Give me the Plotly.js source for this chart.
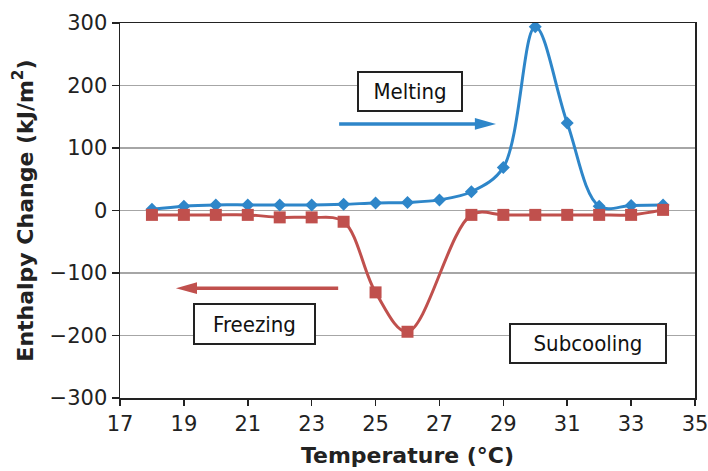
<!DOCTYPE html>
<html><head><meta charset="utf-8">
<script src="https://cdn.plot.ly/plotly-3.0.1.min.js"></script>
<style>html,body{margin:0;padding:0;background:#fff}#chart{width:708px;height:471px}</style>
</head><body><div id="chart"></div>
<script>
const meltTemp = [18,19,20,21,22,23,24,25,26,27,28,29,30,31,32,33,34];
const meltVal  = [2,7,9,9,9,9,10,12,13,17,30,69,294,140,7,8,9];
const freezeTemp = [18,19,20,21,22,23,24,25,26,28,29,30,31,32,33,34];
const freezeVal  = [-7,-7,-7,-7,-11,-11,-18,-131,-194,-7,-7,-7,-7,-7,-7,1];
const xTicks = [17,19,21,23,25,27,29,31,33,35];
const yTicks = [-300,-200,-100,0,100,200,300];

const blue = '#2E86C9', red = '#C0504D';
const font = 'DejaVu Sans, Verdana, sans-serif';
const cfont = 'DejaVu Sans Condensed, Tahoma, DejaVu Sans, sans-serif';

const traces = [
  {x: meltTemp, y: meltVal, type:'scatter', mode:'lines+markers', name:'Melting',
   line:{color:blue, width:3, shape:'spline', smoothing:1},
   marker:{symbol:'diamond', size:10, color:blue}},
  {x: freezeTemp, y: freezeVal, type:'scatter', mode:'lines+markers', name:'Freezing',
   line:{color:red, width:3, shape:'spline', smoothing:1},
   marker:{symbol:'square', size:12, color:red}}
];

function box(text, x, y, w, h){
  return {text:text, x:x, y:y, xref:'x', yref:'y', showarrow:false,
    font:{family:cfont, size:22, color:'#111'}, bgcolor:'#fff',
    bordercolor:'#222', borderwidth:2, borderpad:2, width:w, height:h};
}
// arrow drawn as layout shapes: shaft + triangular head
function arrowShapes(x0, x1, y, c){
  const dir = x1 > x0 ? 1 : -1;
  const headLen = 0.66, halfW = 9.5;
  const base = x1 - dir*headLen;
  return [
    {type:'line', xref:'x', yref:'y', x0:x0, x1:base + dir*0.05, y0:y, y1:y, line:{color:c, width:3.5}},
    {type:'path', xref:'x', yref:'y', fillcolor:c, line:{color:c, width:0},
     path:`M ${x1} ${y} L ${base} ${y+halfW} L ${base} ${y-halfW} Z`}
  ];
}

const layout = {
  width:708, height:471,
  margin:{l:120, r:13, t:23, b:73},
  paper_bgcolor:'#fff', plot_bgcolor:'#fff',
  showlegend:false,
  font:{family:font, size:21, color:'#222'},
  xaxis:{range:[17,35], tickvals:xTicks, ticks:'outside', ticklen:6, tickcolor:'#222', tickwidth:1.5,
    showline:true, linecolor:'#222', linewidth:1.5, mirror:true, showgrid:false, zeroline:false,
    ticklabeloverflow:'allow', automargin:false,
    tickfont:{family:font, size:21, color:'#222'},
    title:{text:'<b>Temperature (°C)</b>', font:{family:font, size:22, color:'#222'}, standoff:13}},
  yaxis:{range:[-300,300], tickvals:yTicks, ticktext:yTicks.map(v=>v<0?'\u2212'+(-v):String(v)),
    ticks:'outside', ticklen:7, tickcolor:'#222', tickwidth:1.5,
    showline:true, linecolor:'#222', linewidth:1.5, mirror:true,
    showgrid:true, gridcolor:'#a6a6a6', gridwidth:1.5, zeroline:false,
    tickfont:{family:font, size:21, color:'#222'},
    title:{text:'<b>Enthalpy Change (kJ/m<sup>2</sup>)</b>', font:{family:font, size:22, color:'#222'}, standoff:10}},
  annotations:[
    box('Melting', 26.08, 190.6, 98, 33),
    box('Freezing', 21.21, -181.9, 115, 34),
    box('Subcooling', 31.65, -213, 150, 33)
  ],
  shapes:[].concat(arrowShapes(23.86, 28.77, 138.6, blue), arrowShapes(23.83, 18.75, -124.2, red))
};
Plotly.newPlot('chart', traces, layout, {displayModeBar:false, staticPlot:true});
</script></body></html>
